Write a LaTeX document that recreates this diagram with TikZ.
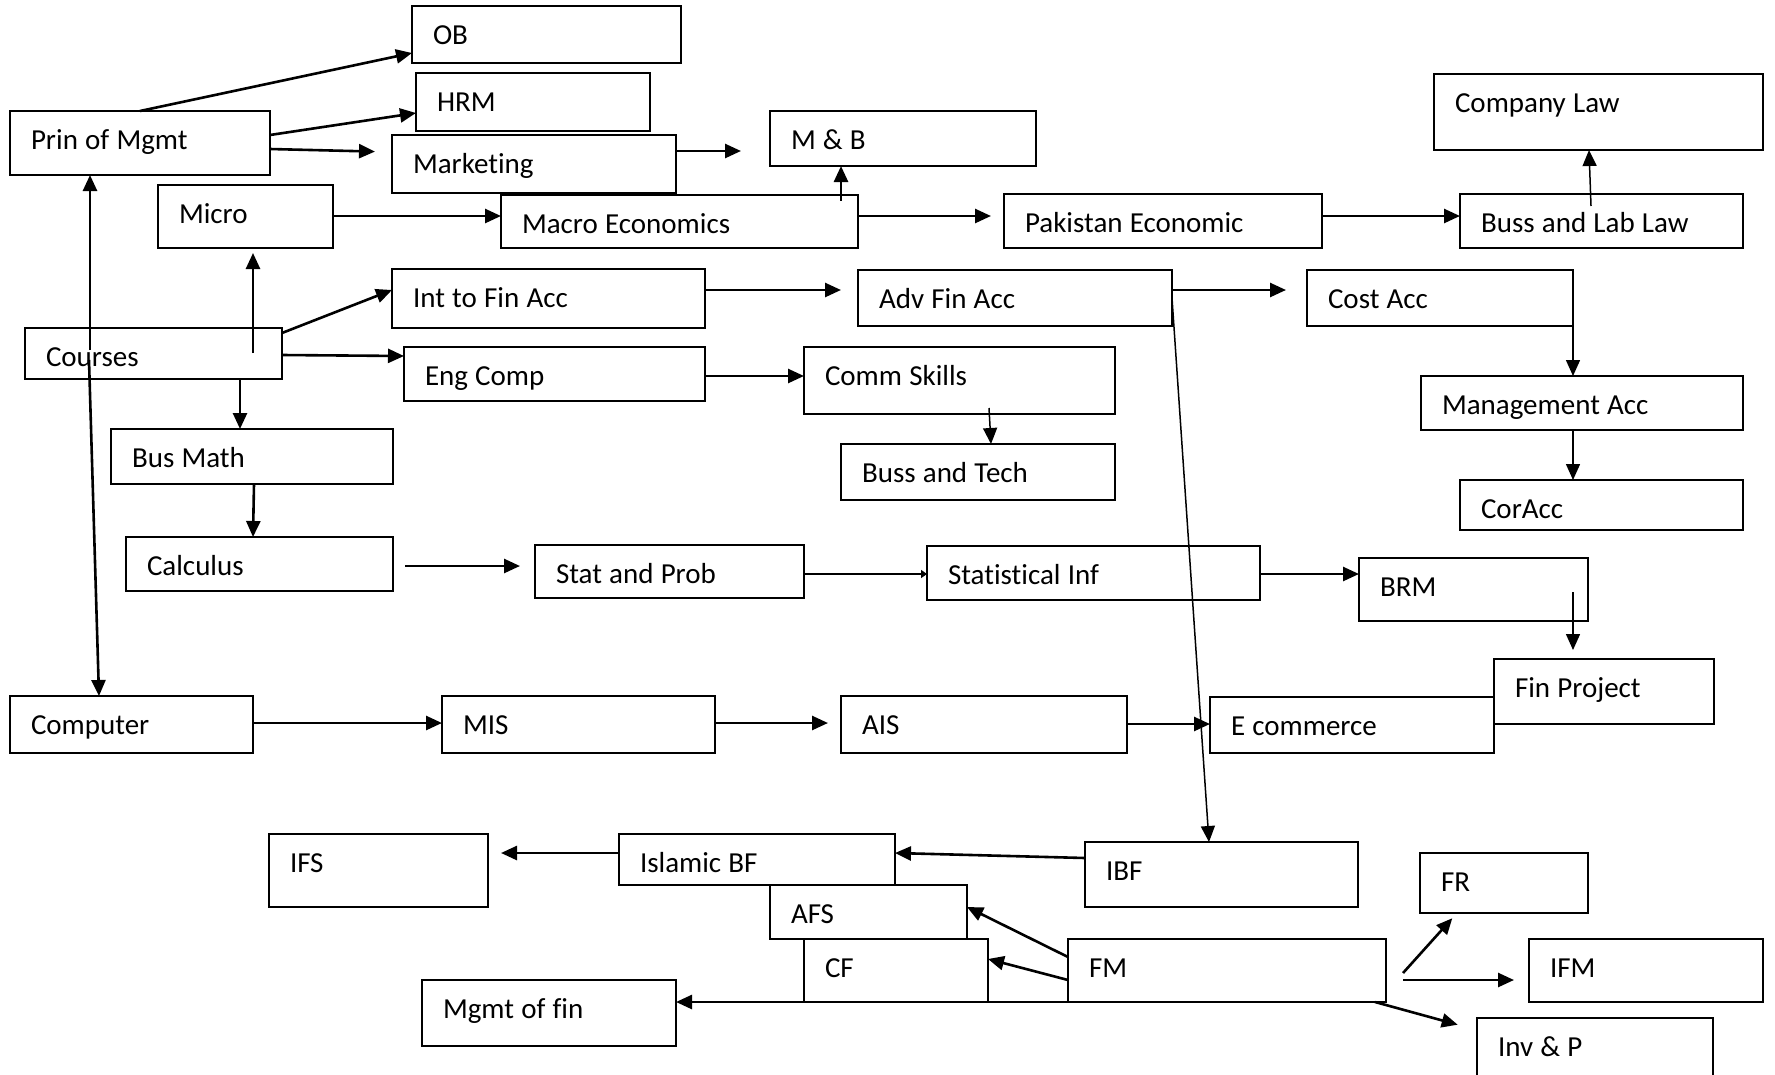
\documentclass[tikz,border=0pt]{standalone}
\usepackage{fontspec}
\setmainfont{Carlito}[Ligatures=NoCommon, WordSpace=1.1]
\usetikzlibrary{arrows.meta}

\tikzset{
  box/.style={draw, line width=2.2pt, anchor=north west, outer sep=0pt,
    inner xsep=21pt, inner ysep=0pt, text height=38pt, align=flush left},
  course/.code 2 args={%
    \pgfmathsetmacro\coursewd{#1-42}%
    \pgfmathsetmacro\coursedp{#2-38}%
    \pgfkeysalso{/tikz/text width=\coursewd pt, /tikz/text depth=\coursedp pt}},
  link/.style={line width=2.6pt},
  thinlink/.style={line width=1.5pt},
}

\begin{document}
\begin{tikzpicture}[x=1pt, y=-1pt, >={Triangle[length=16pt,width=14pt]},
    font=\fontsize{29pt}{34pt}\selectfont]
  \path[use as bounding box, fill=white] (0,0) rectangle (1775,1074);

  % management and economics
  \node[box, course={269}{57}] (ob) at (412,6) {OB};
  \node[box, course={234}{58}] (hrm) at (416,73) {HRM};
  \node[box, course={260}{64}] (prin) at (10,111) {Prin of Mgmt};
  \node[box, course={284}{58}] (mkt) at (392,135) {Marketing};
  \node[box, course={175}{63}] (micro) at (158,185) {Micro};
  \node[box, course={357}{53}] (macro) at (501,195) {Macro Economics};
  \node[box, course={266}{55}] (mb) at (770,111) {M \& B};
  \node[box, course={329}{76}] (company) at (1434,74) {Company Law};
  \node[box, course={318}{54}] (pak) at (1004,194) {Pakistan Economic};
  \node[box, course={283}{54}] (busslab) at (1460,194) {Buss and Lab Law};

  % accounting and language
  \node[box, course={313}{59}] (intfin) at (392,269) {Int to Fin Acc};
  \node[box, course={314}{56}] (advfin) at (858,270) {Adv Fin Acc};
  \node[box, course={266}{56}] (cost) at (1307,270) {Cost Acc};
  \node[box, course={257}{51}] (courses) at (25,328) {Courses};
  \node[box, course={301}{54}] (eng) at (404,347) {Eng Comp};
  \node[box, course={311}{67}] (comm) at (804,347) {Comm Skills};
  \node[box, course={322}{54}] (mgmtacc) at (1421,376) {Management Acc};
  \node[box, course={274}{56}] (busstech) at (841,444) {Buss and Tech};
  \node[box, course={283}{50}] (coracc) at (1460,480) {CorAcc};

  % quantitative
  \node[box, course={282}{55}] (busmath) at (111,429) {Bus Math};
  \node[box, course={267}{54}] (calc) at (126,537) {Calculus};
  \node[box, course={269}{53}] (stat) at (535,545) {Stat and Prob};
  \node[box, course={333}{54}] (statinf) at (927,546) {Statistical Inf};
  \node[box, course={229}{63}] (brm) at (1359,558) {BRM};
  \node[box, course={220}{65}] (finproj) at (1494,659) {Fin Project};

  % computing
  \node[box, course={243}{57}] (computer) at (10,696) {Computer};
  \node[box, course={273}{57}] (mis) at (442,696) {MIS};
  \node[box, course={286}{57}] (ais) at (841,696) {AIS};
  \node[box, course={284}{56}] (ecom) at (1210,697) {E commerce};

  % finance
  \node[box, course={219}{73}] (ifs) at (269,834) {IFS};
  \node[box, course={276}{51}] (islbf) at (619,834) {Islamic BF};
  \node[box, course={273}{65}] (ibf) at (1085,842) {IBF};
  \node[box, course={168}{60}] (fr) at (1420,853) {FR};
  \node[box, course={197}{54}] (afs) at (770,885) {AFS};
  \node[box, course={184}{63}] (cf) at (804,939) {CF};
  \node[box, course={318}{63}] (fm) at (1068,939) {FM};
  \node[box, course={234}{63}] (ifm) at (1529,939) {IFM};
  \node[box, course={254}{66}] (mgmtfin) at (422,980) {Mgmt of fin};
  \node[box, course={236}{60}] (invp) at (1477,1018) {Inv \& P};

  % arrows from Prin of Mgmt and economics
  \draw[link,->] (prin.north) -- (ob.west |- 0,53);
  \draw[link,->] (prin.east |- 0,135) -- (hrm.west |- 0,113);
  \draw[link,->,shorten >=17pt] (prin.east |- 0,149) -- (mkt.west |- 0,152);
  \draw[link,->,shorten >=29pt] (mkt.east |- 0,151) -- (mb.west |- 0,151);
  \draw[link,<-] (mb.south -| 841,0) -- ++(0,35);
  \draw[link,->] (micro.east |- 0,216) -- (macro.west |- 0,216);
  \draw[link,->,shorten >=13pt] (macro.east |- 0,216) -- (pak.west |- 0,216);
  \draw[link,->] (pak.east |- 0,216) -- (busslab.west |- 0,216);
  \draw[thinlink,<-] (company.south -| 1589,0) -- ++(2,56);

  % arrows from Courses
  \draw[link,->] (courses.north -| 90,0) ++(0,22) -- (prin.south -| 90,0);
  \draw[link,->] (courses.south -| 89,0) ++(0,-19) -- (computer.north -| 99,0);
  \draw[link,->,shorten >=5pt] (courses.north -| 253,0) ++(0,25) -- (micro.south -| 253,0);
  \draw[link,->] (courses.east |- 0,333) -- (intfin.west |- 0,290);
  \draw[link,->] (courses.east |- 0,355) -- (eng.west |- 0,356);
  \draw[link,->] (courses.south -| 240,0) -- (busmath.north -| 240,0);
  \draw[link,->] (busmath.south -| 254,0) -- (calc.north -| 253,0);
  \draw[link,->,shorten <=12pt,shorten >=15pt] (calc.east |- 0,566) -- (stat.west |- 0,566);
  \draw[link,-{Triangle[length=6pt,width=8pt]}] (stat.east |- 0,574) -- (statinf.west |- 0,574);
  \draw[link,->] (statinf.east |- 0,574) -- (brm.west |- 0,574);
  \draw[thinlink,->,shorten >=9pt] (brm.south -| 1573,0) ++(0,-29) -- (finproj.north -| 1573,0);

  % accounting
  \draw[link,->,shorten >=17pt] (intfin.east |- 0,290) -- (advfin.west |- 0,290);
  \draw[link,->,shorten >=21pt] (advfin.east |- 0,290) -- (cost.west |- 0,290);
  \draw[thinlink,->] (cost.east) -- (mgmtacc.north -| cost.east);
  \draw[thinlink,->] (mgmtacc.south -| 1573,0) -- (coracc.north -| 1573,0);
  \draw[thinlink,->] (advfin.east) -- (ibf.north -| 1209,0);
  \draw[link,->] (eng.east |- 0,376) -- (comm.west |- 0,376);
  \draw[thinlink,<-] (busstech.north -| 991,0) -- ++(-2,-36);

  % computing
  \draw[link,->] (computer.east |- 0,723) -- (mis.west |- 0,723);
  \draw[link,->,shorten >=13pt] (mis.east |- 0,723) -- (ais.west |- 0,723);
  \draw[link,->] (ais.east |- 0,724) -- (ecom.west |- 0,724);

  % finance
  \draw[link,->] (ibf.west |- 0,858) -- (islbf.east |- 0,853);
  \draw[link,->,shorten >=13pt] (islbf.west |- 0,853) -- (ifs.east |- 0,853);
  \draw[link,->] (fm.west |- 0,957) -- (afs.east |- 0,907);
  \draw[link,->] (fm.west |- 0,980) -- (cf.east |- 0,959);
  \draw[link,->] (fm.south west) -- (mgmtfin.east |- fm.south west);
  \draw[link,->,shorten >=7pt] (fm.east |- 0,973) ++(17,0) -- (fr.south -| 1457,0);
  \draw[link,->,shorten >=15pt] (fm.east |- 0,980) ++(17,0) -- (ifm.west |- 0,980);
  \draw[link,->,shorten >=20pt] (fm.south east) ++(-11,0) -- (invp.west |- 0,1030);
\end{tikzpicture}
\end{document}
